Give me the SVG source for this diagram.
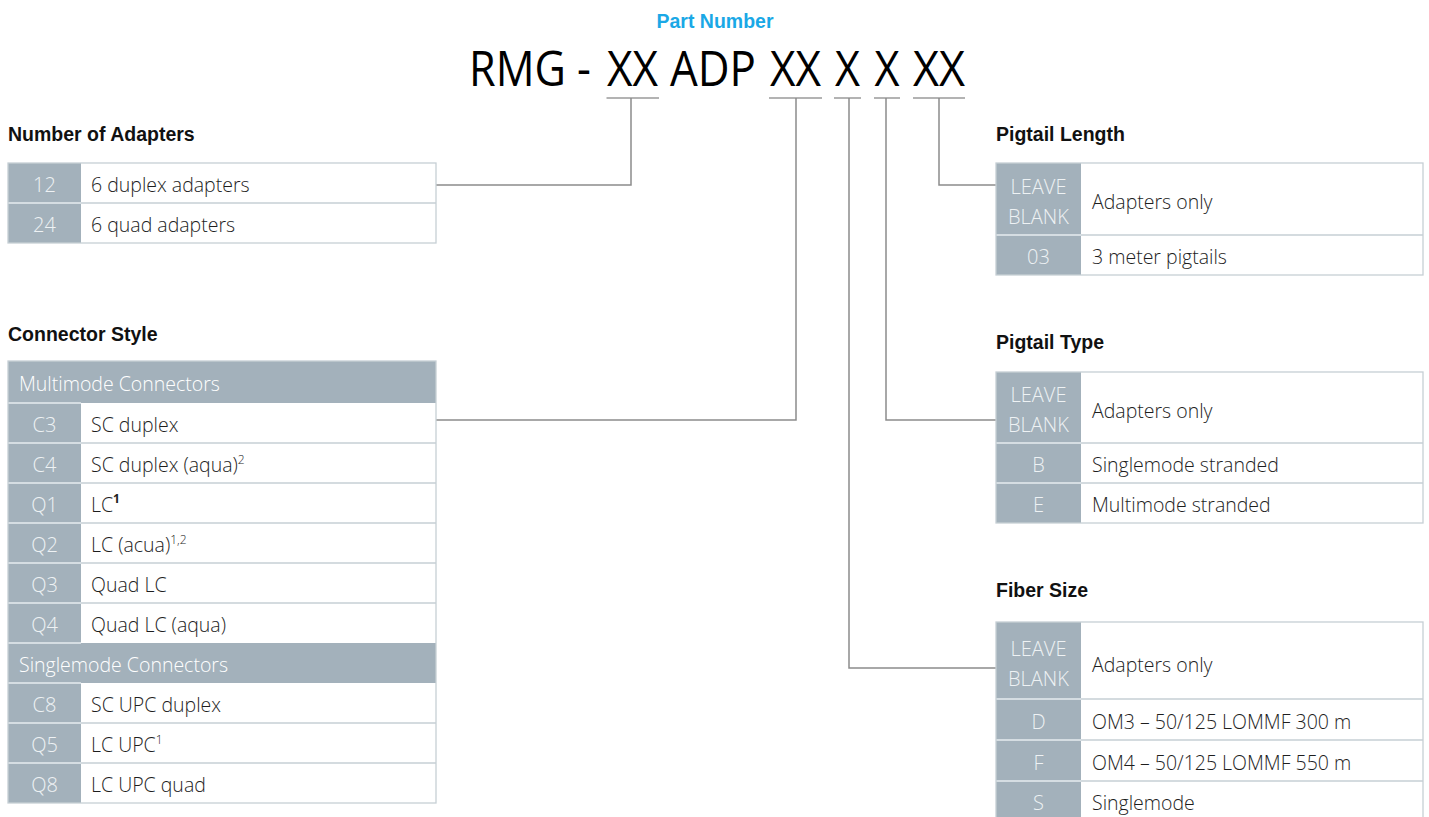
<svg xmlns="http://www.w3.org/2000/svg" width="1429" height="817" viewBox="0 0 1429 817">
<style>
.conn{stroke:#8c8c8c;stroke-width:1.5;fill:none}
.ul{stroke:#9a9a9a;stroke-width:1.5;fill:none}
.bg{fill:#fff}
.bd{fill:none;stroke:#c6cfd5;stroke-width:1.3}
.code{fill:#a3b1bb}
.sepg{stroke:#c6cfd5;stroke-width:1.5}
.sepw{stroke:#e6ecef;stroke-width:1.5}
.h{font-family:"Liberation Sans",Arial,sans-serif;font-weight:700;font-size:19.5px;fill:#111}
.d{font-family:"Open Sans","Liberation Sans",sans-serif;font-weight:300;font-size:19.5px;fill:#1e1e1e}
.c{font-family:"Open Sans","Liberation Sans",sans-serif;font-weight:300;font-size:20px;fill:#eef2f4;text-anchor:middle}
.hr{font-family:"Open Sans","Liberation Sans",sans-serif;font-weight:300;font-size:19.5px;fill:#fff}
.pn{font-family:"Open Sans","Liberation Sans",sans-serif;font-weight:400;font-size:49px;fill:#000}
.sup{font-size:12px}
</style>

<g id="part-number">
<text x="715" y="28" text-anchor="middle" style="font-family:'Liberation Sans',Arial,sans-serif;font-weight:700;font-size:19.5px;fill:#1aa8e6">Part Number</text>
<text class="pn" x="469" y="86" textLength="122" lengthAdjust="spacingAndGlyphs">RMG -</text>
<text class="pn" x="607" y="86" textLength="51" lengthAdjust="spacingAndGlyphs">XX</text>
<text class="pn" x="670" y="86" textLength="86" lengthAdjust="spacingAndGlyphs">ADP</text>
<text class="pn" x="770" y="86" textLength="51" lengthAdjust="spacingAndGlyphs">XX</text>
<text class="pn" x="835" y="86" textLength="25" lengthAdjust="spacingAndGlyphs">X</text>
<text class="pn" x="874.5" y="86" textLength="25" lengthAdjust="spacingAndGlyphs">X</text>
<text class="pn" x="913" y="86" textLength="52" lengthAdjust="spacingAndGlyphs">XX</text>
</g>

<g id="connectors">
<line class="ul" x1="606.5" y1="98" x2="659" y2="98"/>
<line class="ul" x1="769" y1="98" x2="822" y2="98"/>
<line class="ul" x1="834" y1="98" x2="861" y2="98"/>
<line class="ul" x1="874" y1="98" x2="900" y2="98"/>
<line class="ul" x1="913" y1="98" x2="965" y2="98"/>
<path class="conn" d="M436,185 H631 V98"/>
<path class="conn" d="M436,420 H796 V98"/>
<path class="conn" d="M849,98 V668 H996"/>
<path class="conn" d="M886,98 V420 H996"/>
<path class="conn" d="M939,98 V185 H996"/>
</g>

<g id="number-of-adapters">
<text class="h" x="8" y="141">Number of Adapters</text>
<rect class="bg" x="8" y="163" width="428" height="80"/>
<rect class="code" x="8" y="163" width="73" height="80"/>
<line class="sepw" x1="8" y1="203" x2="81" y2="203"/>
<line class="sepg" x1="81" y1="203" x2="436" y2="203"/>
<rect class="bd" x="8" y="163" width="428" height="80"/>
<text class="c" x="44.5" y="192">12</text>
<text class="d" x="91" y="192">6 duplex adapters</text>
<text class="c" x="44.5" y="232">24</text>
<text class="d" x="91" y="232">6 quad adapters</text>
</g>

<g id="connector-style">
<text class="h" x="8" y="341">Connector Style</text>
<rect class="bg" x="8" y="361" width="428" height="442"/>
<rect class="code" x="8" y="361" width="73" height="442"/>
<rect class="code" x="8" y="361" width="428" height="42"/>
<rect class="code" x="8" y="643" width="428" height="40"/>
<g class="sepw">
<line x1="8" y1="403" x2="81" y2="403"/>
<line x1="8" y1="443" x2="81" y2="443"/>
<line x1="8" y1="483" x2="81" y2="483"/>
<line x1="8" y1="523" x2="81" y2="523"/>
<line x1="8" y1="563" x2="81" y2="563"/>
<line x1="8" y1="603" x2="81" y2="603"/>
<line x1="8" y1="643" x2="81" y2="643"/>
<line x1="8" y1="683" x2="81" y2="683"/>
<line x1="8" y1="723" x2="81" y2="723"/>
<line x1="8" y1="763" x2="81" y2="763"/>
</g>
<g class="sepg">
<line x1="81" y1="443" x2="436" y2="443"/>
<line x1="81" y1="483" x2="436" y2="483"/>
<line x1="81" y1="523" x2="436" y2="523"/>
<line x1="81" y1="563" x2="436" y2="563"/>
<line x1="81" y1="603" x2="436" y2="603"/>
<line x1="81" y1="723" x2="436" y2="723"/>
<line x1="81" y1="763" x2="436" y2="763"/>
</g>
<rect class="bd" x="8" y="361" width="428" height="442"/>
<text class="hr" x="19" y="391">Multimode Connectors</text>
<text class="c" x="44.5" y="432">C3</text><text class="d" x="91" y="432">SC duplex</text>
<text class="c" x="44.5" y="472">C4</text><text class="d" x="91" y="472">SC duplex (aqua)<tspan class="sup" dy="-8">2</tspan></text>
<text class="c" x="44.5" y="512">Q1</text><text class="d" x="91" y="512">LC<tspan class="sup" dy="-9" font-weight="700">1</tspan></text>
<text class="c" x="44.5" y="552">Q2</text><text class="d" x="91" y="552">LC (acua)<tspan class="sup" dy="-8">1,2</tspan></text>
<text class="c" x="44.5" y="592">Q3</text><text class="d" x="91" y="592">Quad LC</text>
<text class="c" x="44.5" y="632">Q4</text><text class="d" x="91" y="632">Quad LC (aqua)</text>
<text class="hr" x="19" y="672">Singlemode Connectors</text>
<text class="c" x="44.5" y="712">C8</text><text class="d" x="91" y="712">SC UPC duplex</text>
<text class="c" x="44.5" y="752">Q5</text><text class="d" x="91" y="752">LC UPC<tspan class="sup" dy="-8">1</tspan></text>
<text class="c" x="44.5" y="792">Q8</text><text class="d" x="91" y="792">LC UPC quad</text>
</g>

<g id="pigtail-length">
<text class="h" x="996" y="141">Pigtail Length</text>
<rect class="bg" x="996" y="163" width="427" height="112"/>
<rect class="code" x="996" y="163" width="85" height="112"/>
<line class="sepw" x1="996" y1="235" x2="1081" y2="235"/>
<line class="sepg" x1="1081" y1="235" x2="1423" y2="235"/>
<rect class="bd" x="996" y="163" width="427" height="112"/>
<text class="c" x="1038.5" y="194">LEAVE</text>
<text class="c" x="1038.5" y="224">BLANK</text>
<text class="d" x="1092" y="209">Adapters only</text>
<text class="c" x="1038.5" y="264">03</text>
<text class="d" x="1092" y="264">3 meter pigtails</text>
</g>

<g id="pigtail-type">
<text class="h" x="996" y="349">Pigtail Type</text>
<rect class="bg" x="996" y="372" width="427" height="151"/>
<rect class="code" x="996" y="372" width="85" height="151"/>
<line class="sepw" x1="996" y1="443" x2="1081" y2="443"/>
<line class="sepw" x1="996" y1="483" x2="1081" y2="483"/>
<line class="sepg" x1="1081" y1="443" x2="1423" y2="443"/>
<line class="sepg" x1="1081" y1="483" x2="1423" y2="483"/>
<rect class="bd" x="996" y="372" width="427" height="151"/>
<text class="c" x="1038.5" y="402">LEAVE</text>
<text class="c" x="1038.5" y="432">BLANK</text>
<text class="d" x="1092" y="418">Adapters only</text>
<text class="c" x="1038.5" y="472">B</text>
<text class="d" x="1092" y="472">Singlemode stranded</text>
<text class="c" x="1038.5" y="512">E</text>
<text class="d" x="1092" y="512">Multimode stranded</text>
</g>

<g id="fiber-size">
<text class="h" x="996" y="597">Fiber Size</text>
<rect class="bg" x="996" y="622" width="427" height="200"/>
<rect class="code" x="996" y="622" width="85" height="200"/>
<line class="sepw" x1="996" y1="699" x2="1081" y2="699"/>
<line class="sepw" x1="996" y1="740" x2="1081" y2="740"/>
<line class="sepw" x1="996" y1="781" x2="1081" y2="781"/>
<line class="sepg" x1="1081" y1="699" x2="1423" y2="699"/>
<line class="sepg" x1="1081" y1="740" x2="1423" y2="740"/>
<line class="sepg" x1="1081" y1="781" x2="1423" y2="781"/>
<rect class="bd" x="996" y="622" width="427" height="200"/>
<text class="c" x="1038.5" y="656">LEAVE</text>
<text class="c" x="1038.5" y="686">BLANK</text>
<text class="d" x="1092" y="672">Adapters only</text>
<text class="c" x="1038.5" y="729">D</text>
<text class="d" x="1092" y="729">OM3 – 50/125 LOMMF 300 m</text>
<text class="c" x="1038.5" y="770">F</text>
<text class="d" x="1092" y="770">OM4 – 50/125 LOMMF 550 m</text>
<text class="c" x="1038.5" y="810">S</text>
<text class="d" x="1092" y="810">Singlemode</text>
</g>
</svg>
